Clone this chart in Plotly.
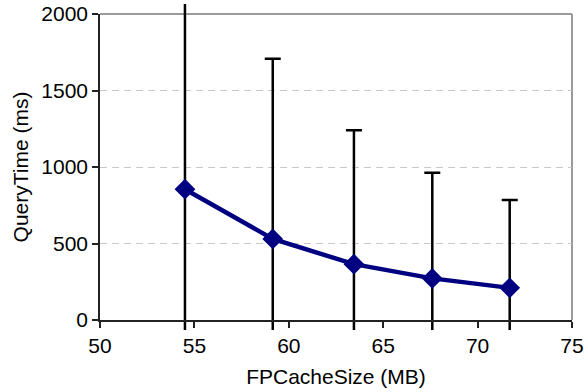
import plotly.graph_objects as go

# Query time vs. fingerprint cache size (mean with spread)
cache_mb = [54.5, 59.15, 63.45, 67.6, 71.7]
query_ms = [855, 530, 365, 272, 210]
spread_ms = [1650, 1178, 876, 690, 575]

x_ticks = [50, 55, 60, 65, 70, 75]
y_ticks = [0, 500, 1000, 1500, 2000]
grid_vals = [500, 1000, 1500]

W, H = 587, 392
left, right = 100, 572      # horizontal extent of the axes frame (px)
top, bottom = 14, 320       # vertical extent of the axes frame (px)
overhang = 10               # error bars run slightly past the frame

y_lo, y_hi = 0, 2000
x_lo, x_hi = 50, 75
frame_h = bottom - top + 2 * overhang
pad = (y_hi - y_lo) * overhang / (bottom - top)
inner = [overhang / frame_h, 1 - overhang / frame_h]

FONT = dict(family="Liberation Sans, Arial, sans-serif", size=21, color="black")
NAVY = "#000080"

fig = go.Figure()

# Error bars live on a slightly taller, invisible subplot so they are clipped
# a few pixels beyond the frame.
fig.add_trace(go.Scatter(
    x=cache_mb, y=query_ms, mode="markers",
    marker=dict(size=1, color="rgba(0,0,0,0)"),
    error_y=dict(type="data", array=spread_ms, visible=True,
                 color="black", thickness=2.5, width=8),
    xaxis="x", yaxis="y", hoverinfo="skip", showlegend=False,
))

# Mean line with diamond markers on the main axes
fig.add_trace(go.Scatter(
    x=cache_mb, y=query_ms, mode="lines+markers",
    line=dict(color=NAVY, width=4.5),
    marker=dict(symbol="diamond", size=16, color=NAVY),
    xaxis="x2", yaxis="y2", showlegend=False,
))

fig.update_layout(
    width=W, height=H,
    margin=dict(l=left, r=W - right, t=top - overhang, b=H - bottom - overhang,
                pad=0, autoexpand=False),
    paper_bgcolor="white", plot_bgcolor="rgba(0,0,0,0)",
    font=FONT,
    xaxis=dict(range=[x_lo, x_hi], domain=[0, 1], visible=False, fixedrange=True,
               automargin=False),
    yaxis=dict(range=[y_lo - pad, y_hi + pad], domain=[0, 1], anchor="x",
               tickvals=grid_vals, showticklabels=False, ticks="",
               showgrid=True, gridcolor="#c8c8c8", gridwidth=1, griddash="7px,5px",
               showline=False, zeroline=False, fixedrange=True, automargin=False),
    xaxis2=dict(range=[x_lo, x_hi], domain=[0, 1], anchor="y2", automargin=False,
                tickvals=x_ticks, ticks="outside", ticklen=6, tickwidth=1.5,
                tickcolor="#222", showline=True, linecolor="#222", linewidth=1.5,
                showgrid=False, zeroline=False,
                title=dict(text="FPCacheSize (MB)", font=FONT, standoff=13)),
    yaxis2=dict(range=[y_lo, y_hi], domain=inner, anchor="x2", automargin=False,
                tickvals=y_ticks, ticks="outside", ticklen=6, tickwidth=1.5,
                tickcolor="#222", showline=True, linecolor="#222", linewidth=1.5,
                showgrid=False, zeroline=False,
                title=dict(text="QueryTime (ms)", font=FONT, standoff=7)),
    shapes=[
        dict(type="line", xref="x domain", yref="y", x0=0, x1=1, y0=y_hi, y1=y_hi,
             line=dict(color="#9a9a9a", width=2), layer="below"),
        dict(type="line", xref="x domain", yref="y", x0=1, x1=1, y0=y_lo, y1=y_hi,
             line=dict(color="#9a9a9a", width=2), layer="below"),
    ],
)

fig.write_html("out.html")
